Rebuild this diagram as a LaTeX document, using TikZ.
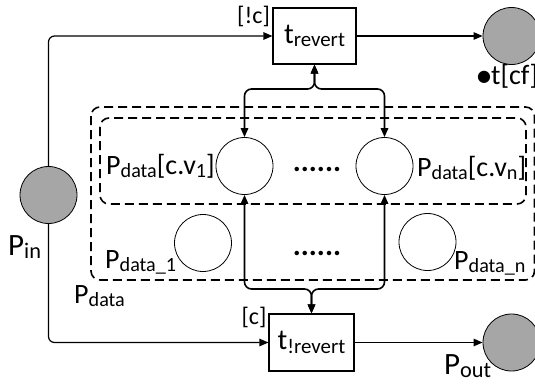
\documentclass[tikz,border=0pt]{standalone}
\usepackage{fontspec}
\setmainfont{Carlito}
\newfontfamily\symfont{DejaVu Sans}
\usetikzlibrary{arrows.meta}
\definecolor{placegray}{HTML}{A6A6A6}
% lowered, reduced text for indices
\newcommand\sbs[1]{\raisebox{-0.12em}{\scalebox{0.72}{#1}}}
\begin{document}
\begin{tikzpicture}[x=1pt,y=-1pt,
  place/.style={circle,draw=black,line width=0.8pt,minimum size=57pt,inner sep=0pt},
  token/.style={place,fill=placegray},
  trans/.style={draw,line width=1.2pt,inner sep=0pt,font=\fontsize{29}{31}\selectfont},
  lbl/.style={inner sep=0pt,font=\fontsize{28}{30}\selectfont},
  biglbl/.style={inner sep=0pt,font=\fontsize{31}{33}\selectfont},
  guard/.style={inner sep=0pt,font=\fontsize{24}{26}\selectfont},
  arc/.style={line width=1.2pt,-{Triangle[length=9pt,width=7.5pt]},rounded corners=6pt},
  twoway/.style={line width=1.6pt,{Triangle[length=9pt,width=7.5pt]}-{Triangle[length=9pt,width=7.5pt]},rounded corners=7pt},
  group/.style={draw,line width=1.6pt,dash pattern=on 9pt off 5pt,rounded corners=9pt}]
\useasboundingbox (0,0) rectangle (535,383);

% data place groups
\draw[group] (91,107) rectangle (534.5,280);
\draw[group] (100,118) rectangle (526,204);

% transitions
\node[trans,minimum width=83pt,minimum height=56pt] (tr) at (314.5,36) {t\sbs{revert}};
\node[trans,minimum width=85pt,minimum height=57pt] (tnr) at (311.5,342.5) {t\sbs{!revert}};

% places
\node[token] (pin) at (48.5,195) {};
\node[token] (pcf) at (511.5,36) {};
\node[token] (pout) at (511.5,342.5) {};
\node[place] (c1) at (244.5,166) {};
\node[place] (cn) at (384.5,166) {};
\node[place] (d1) at (203,243) {};
\node[place] (dn) at (427.5,242) {};

% labels
\node[guard] (gnot) at (253.5,16) {[!c]};
\node[guard] (gc) at (254,317) {[c]};
\node[biglbl,anchor=base west] (lpin) at (8,255) {P\sbs{in}};
\node[lbl,anchor=base west] (lpdata) at (74,303) {P\sbs{data}};
\node[lbl,anchor=base west] (lc1) at (106,174) {P\sbs{data}[c.v\sbs{1}]};
\node[lbl,anchor=base west] (lcn) at (417,176) {P\sbs{data}[c.v\sbs{n}]};
\node[lbl,anchor=base west] (ld1) at (105,268) {P\sbs{data\_1}};
\node[lbl,anchor=base west] (ldn) at (454,269) {P\sbs{data\_n}};
\node[biglbl,anchor=base west] (lpout) at (444,374) {P\sbs{out}};
\node[lbl,anchor=base west] (lcf) at (477,84) {\raisebox{0.1em}{\symfont\fontsize{16}{16}\selectfont ●}t[cf]};
\node[lbl,anchor=base,font=\fontsize{30}{32}\selectfont\bfseries] (dots1) at (317,171) {......};
\node[lbl,anchor=base,font=\fontsize{30}{32}\selectfont\bfseries] (dots2) at (317,255) {......};

% arcs
\coordinate (jt) at (314.5,89);
\coordinate (jb) at (311.5,289);
\draw[arc] (pin.north) |- (tr.west);
\draw[arc] (pin.south) |- (tnr.west);
\draw[arc] (tr.east) -- (pcf.west);
\draw[arc] (tnr.east) -- (pout.west);
\draw[twoway] (tr.south) -- (jt) -| (c1.north);
\draw[twoway] (tr.south) -- (jt) -| (cn.north);
\draw[twoway] (tnr.north) -- (jb) -| (c1.south);
\draw[twoway] (tnr.north) -- (jb) -| (cn.south);
\end{tikzpicture}
\end{document}
